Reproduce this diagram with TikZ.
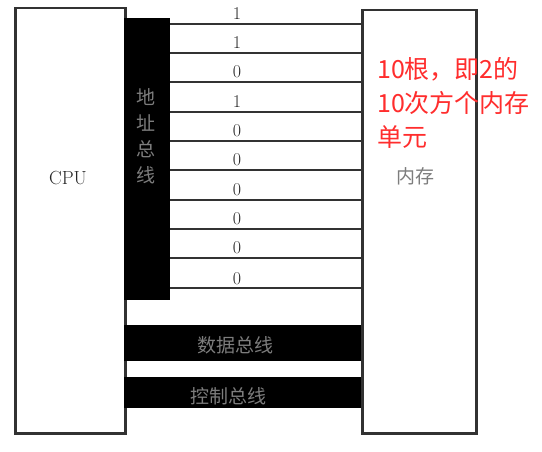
\documentclass[tikz,border=0pt]{standalone}
\usepackage{fontspec}
\newfontfamily\cjk{Noto Sans CJK SC}
\usetikzlibrary{positioning}
\definecolor{notered}{RGB}{255,45,45}
\definecolor{inkgray}{RGB}{50,50,50}
\definecolor{bustext}{RGB}{125,125,125}

\begin{document}
\begin{tikzpicture}[x=1pt, y=-1pt,
    unit/.style={draw=inkgray, line width=2.5pt, fill=white, anchor=north west, inner sep=0pt},
    bus/.style={fill=black, anchor=north west, inner sep=0pt},
    wire/.style={draw=inkgray, line width=2pt},
    bit/.style={anchor=base, inner sep=0pt, text=black!85, font=\fontsize{18}{20}\selectfont},
    bustxt/.style={text=bustext, inner sep=0pt, font=\cjk\fontsize{19}{26}\selectfont}]
    \useasboundingbox (0,0) rectangle (542,452);

    \node[unit, minimum width=110pt, minimum height=425pt] (cpu) at (14,7) {};
    \node[unit, minimum width=114pt, minimum height=423pt] (mem) at (361,9) {};
    \node[bus, minimum width=46pt, minimum height=282pt] (abus) at (124,18) {};
    \node[bus, minimum width=237pt, minimum height=36pt] (dbus) at (124,325) {};
    \node[bus, minimum width=237pt, minimum height=31pt] (cbus) at (124,377) {};

    \draw[wire]
    (abus.east |- 0,24) -- (mem.west |- 0,24)
    (abus.east |- 0,53) -- (mem.west |- 0,53)
    (abus.east |- 0,82) -- (mem.west |- 0,82)
    (abus.east |- 0,112) -- (mem.west |- 0,112)
    (abus.east |- 0,141) -- (mem.west |- 0,141)
    (abus.east |- 0,170) -- (mem.west |- 0,170)
    (abus.east |- 0,200) -- (mem.west |- 0,200)
    (abus.east |- 0,229) -- (mem.west |- 0,229)
    (abus.east |- 0,258) -- (mem.west |- 0,258)
    (abus.east |- 0,288) -- (mem.west |- 0,288);

    \node[bit] (b0) at (237,20) {1};
    \node[bit] (b1) at (237,49) {1};
    \node[bit] (b2) at (237,78) {0};
    \node[bit] (b3) at (237,108) {1};
    \node[bit] (b4) at (237,137) {0};
    \node[bit] (b5) at (237,166) {0};
    \node[bit] (b6) at (237,196) {0};
    \node[bit] (b7) at (237,225) {0};
    \node[bit] (b8) at (237,254) {0};
    \node[bit] (b9) at (237,284) {0};

    \node[text=black!85, font=\fontsize{19}{20}\selectfont] (cputxt) at (68,178) {CPU};
    \node[text=bustext, font=\cjk\fontsize{19}{20}\selectfont] (memtxt) at (415,176) {内存};
    \node[bustxt, align=center] (atxt) at (146,136) {地\\址\\总\\线};
    \node[bustxt] (dtxt) at (235,345) {数据总线};
    \node[bustxt] (ctxt) at (228,396) {控制总线};

    \node[text=notered, align=left, anchor=west, inner sep=0pt,
        font=\cjk\fontsize{25}{34}\selectfont] (note) at (377,103) {10根，即2的\\10次方个内存\\单元};
\end{tikzpicture}
\end{document}
